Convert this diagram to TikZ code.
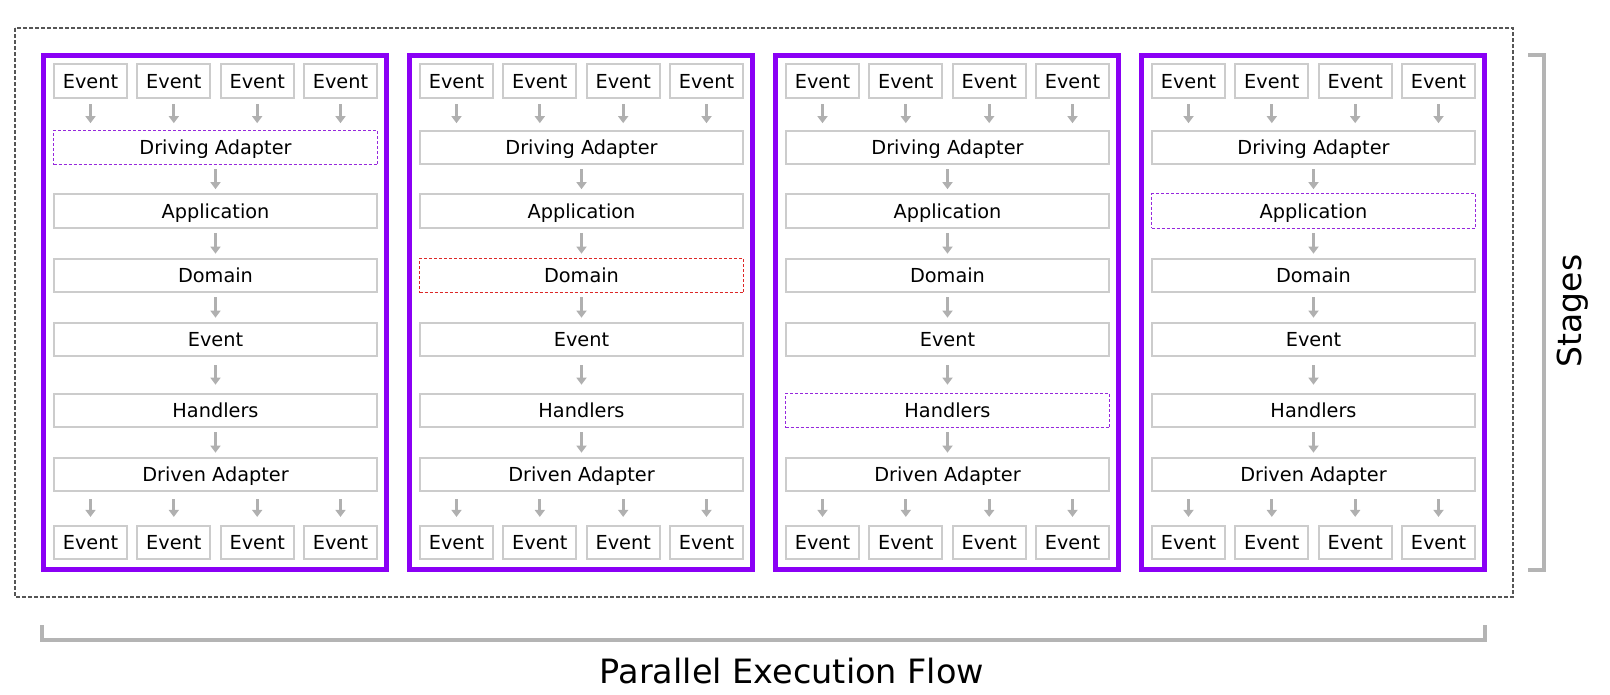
\documentclass[tikz,border=0pt]{standalone}
\usepackage{fontspec}
\setmainfont{DejaVu Sans}
\usetikzlibrary{arrows.meta}
\definecolor{panelc}{RGB}{138,0,245}
\definecolor{hlpc}{RGB}{150,40,220}
\definecolor{hlrc}{RGB}{220,40,40}
\definecolor{boxc}{RGB}{204,204,204}
\definecolor{arrc}{RGB}{176,176,176}
\definecolor{brkc}{RGB}{180,180,180}
\definecolor{outc}{RGB}{85,85,85}
\tikzset{
  box/.style={draw=boxc, line width=2.2pt, fill=white, inner sep=0pt,
    minimum height=33.5pt, text height=14pt, text depth=0pt,
    font=\fontsize{19.3}{22}\selectfont},
  wide/.style={box, minimum width=323pt},
  evbox/.style={box, minimum width=73pt},
  hlp/.style={box, draw=hlpc, line width=1.3pt, dash pattern=on 3pt off 2pt,
    minimum height=34.4pt, minimum width=323.9pt},
  hlr/.style={box, draw=hlrc, line width=1.3pt, dash pattern=on 3pt off 2pt,
    minimum height=34.4pt, minimum width=323.9pt},
  flow/.style={draw=arrc, line width=2.8pt, -{Triangle[width=10pt,length=7pt]}},
  panel/.style={draw=panelc, line width=4.8pt},
  brk/.style={draw=brkc, line width=4pt},
  outer/.style={draw=outc, line width=1.3pt, dash pattern=on 4pt off 2pt},
}
\begin{document}
\begin{tikzpicture}[x=1pt,y=-1pt]
\useasboundingbox (0,0) rectangle (1610,694);
\draw[outer] (15,28) rectangle (1513,597);
\foreach \i/\sa/\sb/\sc/\sd/\se/\sf in {0/hlp/box/box/box/box/box,1/box/box/hlr/box/box/box,2/box/box/box/box/hlp/box,3/box/hlp/box/box/box/box}{
  \pgfmathsetmacro{\L}{41+366*\i}
  \pgfmathsetmacro{\C}{\L+174.5}
  \draw[panel] (\L+2.4,55.4) rectangle (\L+345.6,569.6);
  \node[wide, style=\sa] (d\i) at (\C,147.5) {Driving Adapter};
  \node[wide, style=\sb] (a\i) at (\C,211) {Application};
  \node[wide, style=\sc] (m\i) at (\C,275.5) {Domain};
  \node[wide, style=\sd] (v\i) at (\C,339.5) {Event};
  \node[wide, style=\se] (h\i) at (\C,410.5) {Handlers};
  \node[wide, style=\sf] (r\i) at (\C,474.5) {Driven Adapter};
  \draw[flow, shorten <=4pt, shorten >=4pt] (d\i) -- (a\i);
  \draw[flow, shorten <=4pt, shorten >=4pt] (a\i) -- (m\i);
  \draw[flow, shorten <=4pt, shorten >=4pt] (m\i) -- (v\i);
  \draw[flow, shorten <=8pt, shorten >=8pt] (v\i) -- (h\i);
  \draw[flow, shorten <=4pt, shorten >=4pt] (h\i) -- (r\i);
  \foreach \j/\dx in {1/49.5,2/132.8,3/216.2,4/299.5}{
    \node[evbox] (t\i\j) at (\L+\dx,81) {Event};
    \node[evbox] (b\i\j) at (\L+\dx,542.5) {Event};
    \draw[flow, shorten <=5.25pt, shorten >=6.5pt] (t\i\j.south) -- (t\i\j.south |- d\i.north);
    \draw[flow, shorten <=6.75pt, shorten >=7.75pt] (b\i\j.north |- r\i.south) -- (b\i\j.north);
  }
}
\coordinate (sA) at (1528,55);
\coordinate (sB) at (1528,570);
\draw[brk] (sA) -- (1544,55) -- (1544,570) -- (sB);
\coordinate (fA) at (41.5,625);
\coordinate (fB) at (1485,625);
\draw[brk] (fA) -- (41.5,639.5) -- (1485,639.5) -- (fB);
\node[font=\fontsize{33.5}{40}\selectfont, anchor=base, inner sep=0pt] (flowlabel) at (792,683) {Parallel Execution Flow};
\node[font=\fontsize{33}{40}\selectfont, anchor=base, rotate=90, inner sep=0pt] (stageslabel) at (1581,311) {Stages};
\end{tikzpicture}
\end{document}
